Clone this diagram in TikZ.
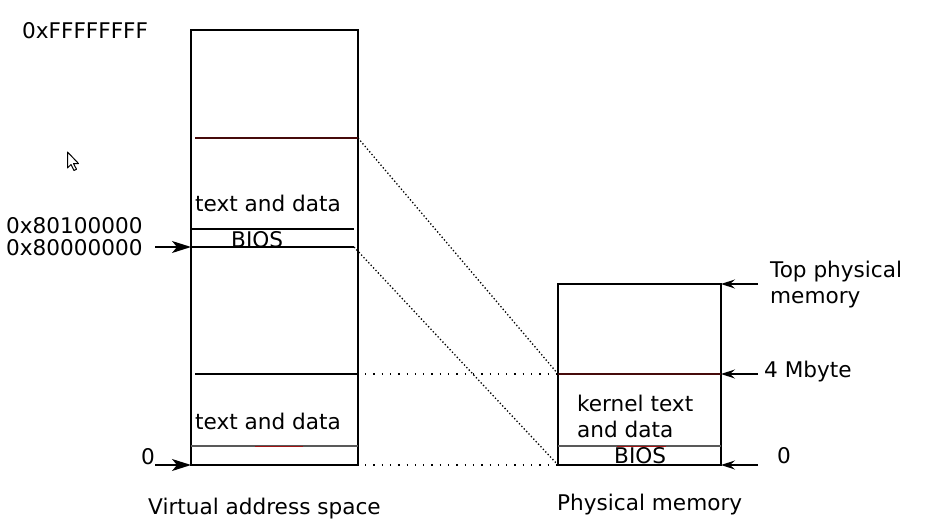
\documentclass[tikz,border=0pt]{standalone}
\usepackage{fontspec}
\setmainfont{DejaVu Sans}
\usetikzlibrary{arrows.meta}
\begin{document}
\begin{tikzpicture}[x=1pt,y=-1pt,
  lbl/.style={anchor=base west,inner sep=0pt,font=\fontsize{21.6}{25}\selectfont},
  boxline/.style={line width=2pt},
  inner/.style={line width=1.2pt},
  redline/.style={line width=1.2pt,draw={rgb,255:red,70;green,10;blue,10}},
  grayline/.style={line width=1.2pt,draw=black!65},
  map/.style={line width=1.3pt,dash pattern=on 1.3pt off 2.2pt},
  sparse/.style={line width=1.3pt,dash pattern=on 1.3pt off 7pt},
  ptr/.style={line width=1.3pt,-{Stealth[length=19pt,width=12pt,inset=5pt]}},
  ptrl/.style={line width=1.2pt,-{Stealth[length=14pt,width=9pt,inset=5pt]}}]
\useasboundingbox (0,0) rectangle (930,527);
% virtual box
\coordinate (vtl) at (191,30);
\coordinate (vbr) at (358,465);
\coordinate (vbl) at (191,465);
\coordinate (vk) at (358,138);
\coordinate (vb1) at (191,229);
\coordinate (vb2) at (191,247);
\coordinate (vb2r) at (354,247);
\coordinate (vu) at (358,374);
% physical box
\coordinate (ptl) at (558,284);
\coordinate (pbr) at (721,465);
\coordinate (ptr) at (721,284);
\coordinate (p4) at (558,374);
\coordinate (p4r) at (721,374);
\coordinate (p0) at (558,465);
\coordinate (p0r) at (721,465);
\draw[boxline] (vtl) rectangle (vbr);
\draw[boxline] (ptl) rectangle (pbr);
% inner lines, virtual
\draw[redline] (195,138) -- (vk);
\draw[inner] (vb1) -- (354,229);
\draw[inner] (vb2) -- (vb2r);
\draw[inner] (195,374) -- (vu);
\draw[grayline] (191,446) -- (358,446);
\draw[line width=1.2pt,draw={rgb,255:red,160;green,20;blue,20}] (255,446.5) -- (303,446.5);
% inner lines, physical
\draw[redline] (p4) -- (p4r);
\draw[grayline] (558,446) -- (721,446);
\draw[line width=1.2pt,draw={rgb,255:red,160;green,20;blue,20}] (617,446.5) -- (666,446.5);
% mapping lines
\draw[map] (vk) -- (p4);
\draw[map] (vb2r) -- (p0);
\draw[sparse] (365,374) -- (p4);
\draw[sparse] (365,465) -- (p0);
% texts virtual
\node[lbl] (t1) at (195,211) {text and data};
\node[lbl] (b1) at (231,247) {BIOS};
\node[lbl] (t2) at (195,429) {text and data};
\node[lbl] (aF) at (22,39) {0xFFFFFFFF};
\node[lbl] (a81) at (6,233) {0x80100000};
\node[lbl] (a80) at (6,255) {0x80000000};
\node[lbl] (z1) at (141,464) {0};
\node[lbl] (vas) at (148,514) {Virtual address space};
% texts physical
\node[lbl] (kt) at (577,411) {kernel text};
\node[lbl] (kd) at (577,437) {and data};
\node[lbl] (b2) at (614,463) {BIOS};
\node[lbl] (top1) at (770,277) {Top physical};
\node[lbl] (top2) at (770,303) {memory};
\node[lbl] (m4) at (764,377) {4 Mbyte};
\node[lbl] (z2) at (777,463) {0};
\node[lbl] (pm) at (557,510) {Physical memory};
% arrows
\coordinate (la1) at (155,247);
\coordinate (la2) at (155,465);
\coordinate (ra1) at (758,284);
\coordinate (ra2) at (758,374);
\coordinate (ra3) at (758,465);
\draw[ptr] (la1) -- (vb2);
\draw[ptr] (la2) -- (vbl);
\draw[ptrl] (ra1) -- (ptr);
\draw[ptrl] (ra2) -- (p4r);
\draw[ptrl] (ra3) -- (p0r);
% mouse cursor
\draw[line width=1pt,fill=white,line join=round] (67.5,152) -- (67.5,168) -- (71,164.5) -- (74,170.5) -- (76.5,169.3) -- (73.5,163.5) -- (78.5,163.5) -- cycle;
\end{tikzpicture}
\end{document}
